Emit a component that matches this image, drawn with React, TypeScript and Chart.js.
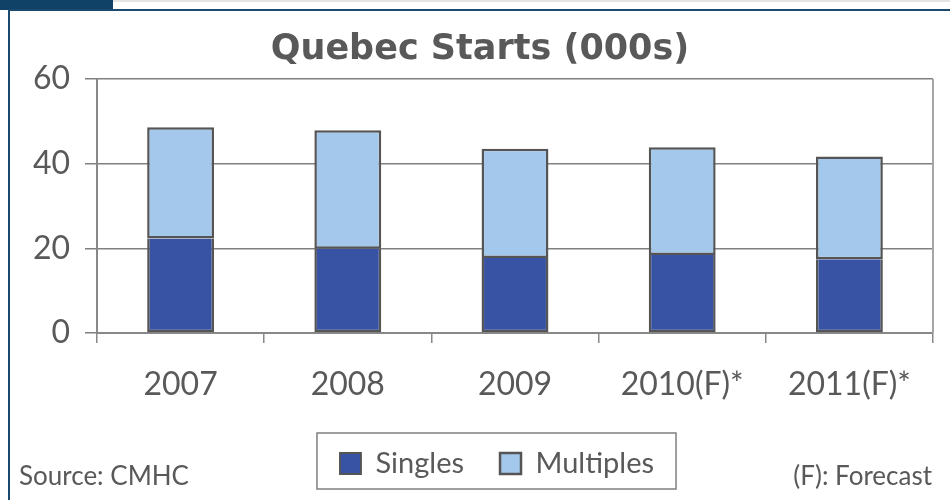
import React, { useEffect, useRef } from "react";
import { Chart, registerables } from "chart.js";

Chart.register(...registerables);

// ---- data ----
const categories: string[] = ["2007", "2008", "2009", "2010(F)*", "2011(F)*"];
const singles: number[] = [22.3, 19.9, 17.7, 18.4, 17.4];
const multiples: number[] = [26.3, 28.0, 25.8, 25.5, 24.3];
const yTicks: number[] = [0, 20, 40, 60];
const seriesNames: string[] = ["Singles", "Multiples"];
const titleText = "Quebec Starts (000s)";
const sourceText = "Source: CMHC";
const forecastText = "(F): Forecast";

// ---- styling / layout constants ----
const TEXT_GRAY = "#595959";
const TITLE_CENTER_X = 480;
const LEGEND_CENTER_X = 497;

const decorPlugin = {
  id: "decor",
  afterLayout(chart: any) {
    const t = chart.titleBlock;
    if (t) {
      const w = t.right - t.left;
      t.left = TITLE_CENTER_X - w / 2;
      t.right = TITLE_CENTER_X + w / 2;
    }
    const lg = chart.legend;
    if (lg) {
      const w = lg.right - lg.left;
      lg.left = LEGEND_CENTER_X - w / 2;
      lg.right = LEGEND_CENTER_X + w / 2;
    }
  },
  afterDraw(chart: any) {
    const { ctx, chartArea } = chart;
    ctx.save();
    // right border of plot area
    ctx.strokeStyle = "#a6a6a6";
    ctx.lineWidth = 2;
    ctx.beginPath();
    ctx.moveTo(chartArea.right, chartArea.top);
    ctx.lineTo(chartArea.right, chartArea.bottom);
    ctx.stroke();
    // legend border box
    const lg = chart.legend;
    const hb = lg && lg.legendHitBoxes;
    if (hb && hb.length) {
      const first = hb[0];
      const last = hb[hb.length - 1];
      const x0 = first.left - 23;
      const x1 = last.left + last.width + 22;
      const y0 = first.top - 16;
      const y1 = first.top + 40;
      ctx.strokeStyle = "#7f7f7f";
      ctx.lineWidth = 1.5;
      ctx.strokeRect(x0, y0, x1 - x0, y1 - y0);
    }
    ctx.restore();
  },
};

export default function App() {
  const canvasRef = useRef<HTMLCanvasElement | null>(null);

  useEffect(() => {
    if (!canvasRef.current) return;
    const chart = new Chart(canvasRef.current, {
      type: "bar",
      data: {
        labels: categories,
        datasets: [
          {
            label: seriesNames[0],
            data: singles,
            backgroundColor: "#3853a4",
            borderColor: "#555555",
            borderWidth: { top: 0, left: 2.5, right: 2.5, bottom: 2.5 },
            borderSkipped: false,
            barPercentage: 0.4,
            categoryPercentage: 1,
          },
          {
            label: seriesNames[1],
            data: multiples,
            backgroundColor: "#a3c8ec",
            borderColor: "#555555",
            borderWidth: 2.5,
            borderSkipped: false,
            barPercentage: 0.4,
            categoryPercentage: 1,
          },
        ],
      },
      options: {
        animation: false,
        responsive: false,
        events: [],
        layout: { padding: { left: 20, right: 17, top: 0, bottom: 12 } },
        plugins: {
          tooltip: { enabled: false },
          title: {
            display: true,
            text: titleText,
            color: TEXT_GRAY,
            font: { family: "DejaVu Sans", size: 35, weight: "bold", lineHeight: 1.2 },
            padding: { top: 29, bottom: 8 },
          },
          legend: {
            display: true,
            position: "bottom",
            labels: {
              boxWidth: 21,
              boxHeight: 21,
              padding: 36,
              color: TEXT_GRAY,
              font: { family: "Lato", size: 29 },
            },
          },
        },
        scales: {
          x: {
            stacked: true,
            offset: true,
            afterFit: (scale: any) => {
              scale.height = 80;
            },
            grid: {
              offset: true,
              drawOnChartArea: false,
              drawTicks: true,
              tickLength: 10,
              color: "#888888",
              lineWidth: 1.5,
            },
            border: { display: true, color: "#888888", width: 2 },
            ticks: {
              color: TEXT_GRAY,
              font: { family: "Lato", size: 32 },
              padding: 22,
              maxRotation: 0,
              autoSkip: false,
            },
          },
          y: {
            stacked: true,
            min: yTicks[0],
            max: yTicks[yTicks.length - 1],
            afterFit: (scale: any) => {
              scale.width = 77;
            },
            afterBuildTicks: (scale: any) => {
              scale.ticks = yTicks.map((v) => ({ value: v }));
            },
            grid: {
              color: "#808080",
              lineWidth: 1.5,
              drawTicks: true,
              tickLength: 12,
            },
            border: { display: true, color: "#888888", width: 2 },
            ticks: {
              color: TEXT_GRAY,
              font: { family: "Lato", size: 32 },
              padding: 15,
            },
          },
        },
      },
      plugins: [decorPlugin],
    } as any);
    return () => chart.destroy();
  }, []);

  const footStyle: React.CSSProperties = {
    position: "absolute",
    top: 460,
    fontFamily: "Lato",
    fontSize: 26,
    lineHeight: 1.2,
    color: TEXT_GRAY,
    whiteSpace: "nowrap",
  };

  return (
    <div style={{ position: "absolute", left: 0, top: 0, width: 950, height: 500, background: "#ffffff", overflow: "hidden" }}>
      <canvas ref={canvasRef} width={950} height={500} style={{ position: "absolute", left: 0, top: 0, display: "block" }} />
      <div style={{ position: "absolute", left: 113, top: 0, width: 837, height: 2, background: "#e4e4e4" }} />
      <div style={{ position: "absolute", left: 0, top: 0, width: 113, height: 10, background: "#0f4266" }} />
      <div style={{ position: "absolute", left: 8, top: 9, width: 942, height: 2, background: "#1b4a70" }} />
      <div style={{ position: "absolute", left: 8, top: 9, width: 2, height: 491, background: "#1b4a70" }} />
      <div style={{ ...footStyle, left: 19 }}>{sourceText}</div>
      <div style={{ ...footStyle, right: 18 }}>{forecastText}</div>
    </div>
  );
}
